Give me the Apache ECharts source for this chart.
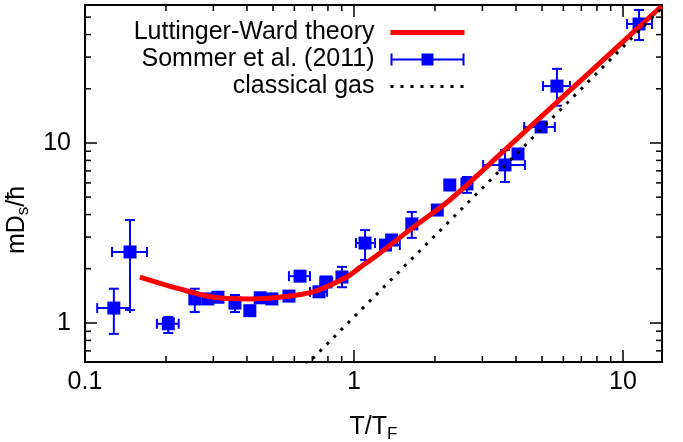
<!DOCTYPE html>
<html>
<head>
<meta charset="utf-8">
<script src="https://cdn.jsdelivr.net/npm/echarts@6/dist/echarts.min.js"></script>
<style>
  html, body { margin: 0; padding: 0; background: #fff; }
  #chart { width: 683px; height: 442px; }
</style>
</head>
<body>
<div id="chart"></div>
<script>
// Luttinger-Ward theory curve
const lwT = [0.16, 0.225, 0.30, 0.41, 0.53, 0.705, 0.94, 1.05, 1.25, 1.61, 2.27, 3.64, 4.91, 7.5, 13.9]
const lwD = [1.80, 1.545, 1.39, 1.36, 1.39, 1.49, 1.80, 2.03, 2.45, 3.29, 4.82, 9.15, 13.8, 24.6, 57.5]

// Sommer et al. (2011) data, null = no error bar
const sommerT = [0.128, 0.147, 0.204, 0.256, 0.286, 0.312, 0.361, 0.410, 0.448, 0.495, 0.573, 0.630, 0.741, 0.787,
  0.902, 1.099, 1.31, 1.38, 1.64, 2.04, 2.27, 2.63, 3.64, 4.07, 4.96, 5.68, 11.47]
const sommerD = [1.21, 2.48, 0.99, 1.36, 1.36, 1.39, 1.29, 1.17, 1.38, 1.36, 1.41, 1.82, 1.49, 1.69,
  1.80, 2.78, 2.71, 2.89, 3.55, 4.24, 5.84, 5.92, 7.55, 8.69, 12.27, 20.7, 45.8]
const sommerTLo = [0.111, 0.126, 0.185, null, null, null, null, null, null, null, null, 0.573, 0.686, 0.75,
  null, 1.017, 1.25, null, null, null, null, null, 3.02, null, 4.29, 5.04, 10.35]
const sommerTHi = [0.147, 0.170, 0.223, null, null, null, null, null, null, null, null, 0.686, 0.794, 0.83,
  null, 1.197, 1.48, null, null, null, null, null, 4.32, null, 5.58, 6.35, 12.82]
const sommerDLo = [0.87, 1.18, 0.88, 1.15, null, null, 1.15, null, null, null, null, null, null, null,
  1.58, 2.24, null, null, 2.97, null, null, 5.28, 6.07, null, null, 16.1, 37.3]
const sommerDHi = [1.55, 3.73, 1.08, 1.55, null, null, 1.43, null, null, null, null, null, null, null,
  2.05, 3.28, null, null, 4.14, null, null, 6.47, 9.15, null, null, 25.8, 54.8]

// classical gas line (end points)
const classicalT = [0.66, 14]
const classicalD = [0.579, 56.6]

// minor ticks
const minorTicksX = [0.2, 0.3, 0.4, 0.5, 0.6, 0.7, 0.8, 0.9, 2, 3, 4, 5, 6, 7, 8, 9]
const minorTicksY = [0.7, 0.8, 0.9, 2, 3, 4, 5, 6, 7, 8, 9, 20, 30, 40, 50]

const xMin = 0.1
const xMax = 13.96
const yMin = 0.607
const yMax = 58.4

const FONT = 'Liberation Sans, Arial, Helvetica, sans-serif'
const BLUE = '#0000ff'

const pow10Label = (v) => {
  const l = Math.log10(v)
  return Math.abs(l - Math.round(l)) < 1e-6 ? String(Math.pow(10, Math.round(l))) : ''
}

const chart = echarts.init(document.getElementById('chart'))

const frameAxis = {
  type: 'log',
  logBase: 10,
  axisLine: { show: true, lineStyle: { color: '#000', width: 2 } },
  axisTick: { show: true, inside: true, length: 12, lineStyle: { color: '#000', width: 1.5 } },
  splitLine: { show: false },
  minorTick: { show: false },
  minorSplitLine: { show: false }
}

const option = {
  animation: false,
  backgroundColor: '#fff',
  grid: { left: 85, right: 21, top: 5, bottom: 80, outerBoundsMode: 'none', containLabel: false },
  legend: {
    orient: 'vertical',
    align: 'right',
    right: 216,
    top: 20,
    padding: 0,
    itemWidth: 74,
    itemHeight: 12,
    itemGap: 2,
    selectedMode: false,
    textStyle: { fontSize: 25, color: '#000', fontFamily: FONT, padding: [0, 11, 0, 0] },
    lineStyle: { width: 'inherit' },
    data: [
      { name: 'Luttinger-Ward theory', itemStyle: { opacity: 0 } },
      {
        name: 'Sommer et al. (2011)',
        icon: 'path://M0 5H74V7H0Z M0 0H2V12H0Z M72 0H74V12H72Z M31 0H43V12H31Z'
      },
      { name: 'classical gas', itemStyle: { opacity: 0 } }
    ]
  },
  xAxis: [
    Object.assign({}, frameAxis, {
      position: 'bottom',
      min: xMin,
      max: xMax,
      axisLabel: { show: true, margin: 8, fontSize: 25, color: '#000', fontFamily: FONT, formatter: pow10Label },
      name: 'T/T{s|F}',
      nameLocation: 'middle',
      nameGap: 50,
      nameTextStyle: {
        fontSize: 25, color: '#000', fontFamily: FONT,
        rich: { s: { fontSize: 17, color: '#000', fontFamily: FONT, padding: [14, 0, 0, 0] } }
      }
    }),
    Object.assign({}, frameAxis, {
      position: 'top',
      min: xMin,
      max: xMax,
      axisLabel: { show: false }
    })
  ],
  yAxis: [
    Object.assign({}, frameAxis, {
      position: 'left',
      min: yMin,
      max: yMax,
      axisLabel: { show: true, margin: 14, fontSize: 25, color: '#000', fontFamily: FONT, formatter: pow10Label },
      name: 'mD{s|s}/ħ',
      nameLocation: 'middle',
      nameGap: 42,
      nameTextStyle: {
        fontSize: 25, color: '#000', fontFamily: FONT, padding: [0, 73, 0, 0],
        rich: { s: { fontSize: 17, color: '#000', fontFamily: FONT, padding: [14, 0, 0, 0] } }
      }
    }),
    Object.assign({}, frameAxis, {
      position: 'right',
      min: yMin,
      max: yMax,
      axisLabel: { show: false }
    })
  ],
  series: [
    {
      name: 'Luttinger-Ward theory',
      type: 'line',
      data: lwT.map((t, i) => [t, lwD[i]]),
      symbol: 'none',
      smooth: 0.3,
      lineStyle: { color: '#ff0000', width: 5 },
      itemStyle: { color: '#ff0000' }
    },
    {
      name: 'errorbars',
      type: 'custom',
      data: sommerT.map((t, i) => [t, sommerD[i]]),
      renderItem: (params, api) => {
        const i = params.dataIndex
        const c = api.coord([api.value(0), api.value(1)])
        const st = { stroke: BLUE, lineWidth: 2 }
        const children = []
        const seg = (x1, y1, x2, y2) => children.push({ type: 'line', shape: { x1, y1, x2, y2 }, style: st })
        if (sommerTLo[i] != null) {
          const a = api.coord([sommerTLo[i], sommerD[i]])[0]
          const b = api.coord([sommerTHi[i], sommerD[i]])[0]
          seg(a, c[1], b, c[1])
          seg(a, c[1] - 5, a, c[1] + 5)
          seg(b, c[1] - 5, b, c[1] + 5)
        }
        if (sommerDLo[i] != null) {
          const a = api.coord([sommerT[i], sommerDLo[i]])[1]
          const b = api.coord([sommerT[i], sommerDHi[i]])[1]
          seg(c[0], a, c[0], b)
          seg(c[0] - 5, a, c[0] + 5, a)
          seg(c[0] - 5, b, c[0] + 5, b)
        }
        return { type: 'group', children }
      }
    },
    {
      name: 'Sommer et al. (2011)',
      type: 'scatter',
      data: sommerT.map((t, i) => [t, sommerD[i]]),
      symbol: 'rect',
      symbolSize: 13,
      itemStyle: { color: BLUE, opacity: 1 }
    },
    {
      name: 'classical gas',
      type: 'line',
      data: classicalT.map((t, i) => [t, classicalD[i]]),
      symbol: 'none',
      lineStyle: { color: '#000', width: 3, type: [3, 7] },
      itemStyle: { color: '#000' }
    },
    {
      name: 'minorX',
      type: 'custom',
      data: minorTicksX.map(v => [v, 1]),
      renderItem: (params, api) => {
        const cs = params.coordSys
        const x = api.coord([api.value(0), 1])[0]
        const st = { stroke: '#000', lineWidth: 1.5 }
        return {
          type: 'group',
          children: [
            { type: 'line', shape: { x1: x, y1: cs.y + cs.height, x2: x, y2: cs.y + cs.height - 6 }, style: st },
            { type: 'line', shape: { x1: x, y1: cs.y, x2: x, y2: cs.y + 6 }, style: st }
          ]
        }
      }
    },
    {
      name: 'minorY',
      type: 'custom',
      data: minorTicksY.map(v => [1, v]),
      renderItem: (params, api) => {
        const cs = params.coordSys
        const y = api.coord([1, api.value(1)])[1]
        const st = { stroke: '#000', lineWidth: 1.5 }
        return {
          type: 'group',
          children: [
            { type: 'line', shape: { x1: cs.x, y1: y, x2: cs.x + 6, y2: y }, style: st },
            { type: 'line', shape: { x1: cs.x + cs.width, y1: y, x2: cs.x + cs.width - 6, y2: y }, style: st }
          ]
        }
      }
    }
  ]
}

chart.setOption(option)
</script>
</body>
</html>
